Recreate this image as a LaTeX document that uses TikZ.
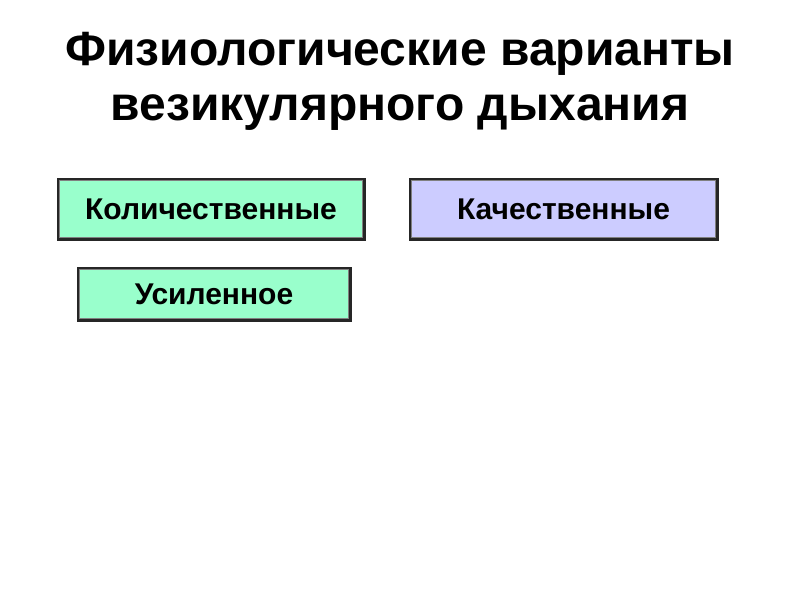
\documentclass[tikz,border=0pt]{standalone}
\usepackage{fontspec}
\setmainfont{Liberation Sans}
\begin{document}
\begin{tikzpicture}[x=1pt,y=-1pt,
  box/.style={draw=black!85, line width=3pt, minimum height=#1, inner sep=0pt, font=\fontsize{30}{34}\selectfont\bfseries},
  inner/.style={draw=gray, line width=1pt}]
\useasboundingbox (0,0) rectangle (800,600);
\node[font=\fontsize{48}{55}\selectfont\bfseries, align=center] (title) at (400,81) {Физиологические варианты\\везикулярного дыхания};
\node[box=60pt, minimum width=306pt, fill={rgb,255:red,153;green,255;blue,204}] (kol) at (211,209) {Количественные};
\node[box=60pt, minimum width=307pt, fill={rgb,255:red,204;green,204;blue,255}] (kach) at (563.5,209) {Качественные};
\node[box=52pt, minimum width=272pt, fill={rgb,255:red,153;green,255;blue,204}] (us) at (214,294) {Усиленное};
\foreach \n in {kol,kach,us}{
  \draw[inner] ([shift={(3,-3)}]\n.south west) rectangle ([shift={(-3,3)}]\n.north east);
}
\end{tikzpicture}
\end{document}
